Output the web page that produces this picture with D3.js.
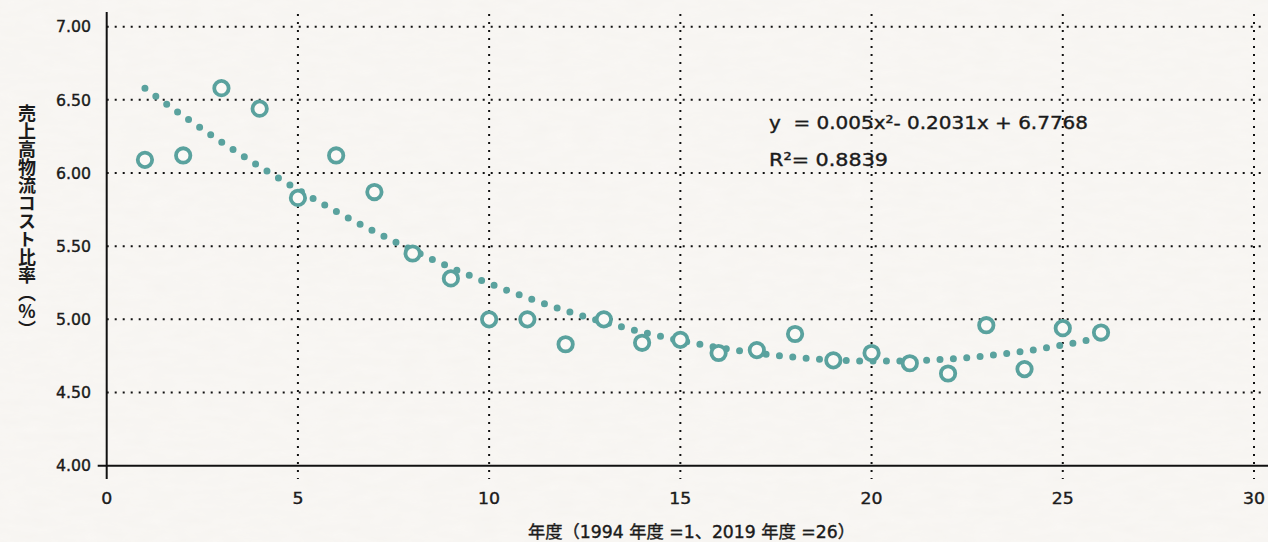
<!DOCTYPE html>
<html>
<head>
<meta charset="utf-8">
<script src="https://cdn.jsdelivr.net/npm/d3@7"></script>
<style>
  html, body { margin: 0; padding: 0; background: #f8f6f3; }
  svg text { font-family: "DejaVu Sans", "Noto Sans CJK JP", sans-serif; fill: #1b1b1b; }
</style>
</head>
<body>
<svg id="chart"></svg>
<script>
// data
var years = [1, 2, 3, 4, 5, 6, 7, 8, 9, 10, 11, 12, 13, 14, 15, 16, 17, 18, 19, 20, 21, 22, 23, 24, 25, 26];
var ratios = [6.09, 6.12, 6.58, 6.44, 5.83, 6.12, 5.87, 5.45, 5.28, 5.00, 5.00, 4.83, 5.00, 4.84, 4.86, 4.77, 4.79, 4.90, 4.72, 4.77, 4.70, 4.63, 4.96, 4.66, 4.94, 4.91];
// trendline coefficients printed on the chart (c0 + c1*x + c2*x^2)
var trendCoef = [6.7768, -0.2031, 0.005];
var xTicks = [0, 5, 10, 15, 20, 25, 30];
var yTicks = [4.0, 4.5, 5.0, 5.5, 6.0, 6.5, 7.0];
var eqLines = ["y \u00A0= 0.005x\u00B2- 0.2031x + 6.7768", "R\u00B2= 0.8839"];
var yTitle = "売上高物流コスト比率︵%︶";
var xTitle = "年度（1994 年度 =1、2019 年度 =26）";

function render_chart(w, h) {
    var teal = "#5aa29e";
    var ink = "#1b1b1b";

    var x = d3.scaleLinear().domain([0, 30]).range([106.7, 1254]);
    var y = d3.scaleLinear().domain([4, 7]).range([465.7, 26.7]);

    var svg = d3.select("#chart")
        .attr("width", w)
        .attr("height", h);

    // paper-ish background
    var defs = svg.append("defs");
    var f = defs.append("filter").attr("id", "paper")
        .attr("x", 0).attr("y", 0).attr("width", "100%").attr("height", "100%");
    f.append("feTurbulence").attr("type", "fractalNoise")
        .attr("baseFrequency", "0.04 0.12").attr("numOctaves", 3).attr("seed", 4);
    f.append("feColorMatrix").attr("type", "matrix")
        .attr("values", "0 0 0 0 0.55  0 0 0 0 0.52  0 0 0 0 0.48  0 0 0 0.06 0");
    f.append("feComposite").attr("in2", "SourceGraphic").attr("operator", "in");

    svg.append("rect").attr("width", w).attr("height", h).attr("fill", "#f9f7f4");
    svg.append("rect").attr("width", w).attr("height", h).attr("fill", "#fff").attr("filter", "url(#paper)");

    // horizontal grid (dotted)
    svg.append("g")
        .selectAll("line")
        .data(yTicks.filter(function (d) { return d > 4; }))
        .enter().append("line")
        .attr("x1", x(0)).attr("x2", 1266)
        .attr("y1", function (d) { return y(d); })
        .attr("y2", function (d) { return y(d); })
        .attr("stroke", "#111")
        .attr("stroke-width", 2)
        .attr("stroke-dasharray", "2 6");

    // vertical grid (dotted), running a little past the axis like tick marks
    svg.append("g")
        .selectAll("line")
        .data(xTicks.filter(function (d) { return d > 0; }))
        .enter().append("line")
        .attr("x1", function (d) { return x(d); })
        .attr("x2", function (d) { return x(d); })
        .attr("y1", 14).attr("y2", 479)
        .attr("stroke", "#111")
        .attr("stroke-width", 2)
        .attr("stroke-dasharray", "2 6");

    // axes
    svg.append("line")
        .attr("x1", x(0)).attr("x2", x(0))
        .attr("y1", 12).attr("y2", 479)
        .attr("stroke", "#111").attr("stroke-width", 2);
    svg.append("line")
        .attr("x1", x(0) - 9).attr("x2", 1268)
        .attr("y1", y(4)).attr("y2", y(4))
        .attr("stroke", "#111").attr("stroke-width", 2);

    // tick labels (glyphs stretched a little, the original face is wide)
    svg.append("g")
        .selectAll("text")
        .data(yTicks)
        .enter().append("text")
        .attr("x", 91)
        .attr("y", function (d) { return y(d); })
        .attr("dy", "0.36em")
        .attr("text-anchor", "end")
        .attr("font-size", 16)
        .attr("stroke", ink)
        .attr("stroke-width", 0.4)
        .attr("textLength", 35)
        .attr("lengthAdjust", "spacingAndGlyphs")
        .text(function (d) { return d3.format(".2f")(d); });

    svg.append("g")
        .selectAll("text")
        .data(xTicks)
        .enter().append("text")
        .attr("x", function (d) { return x(d); })
        .attr("y", 504)
        .attr("text-anchor", "middle")
        .attr("font-size", 16.5)
        .attr("stroke", ink)
        .attr("stroke-width", 0.4)
        .attr("textLength", function (d) { return String(d).length * 11; })
        .attr("lengthAdjust", "spacingAndGlyphs")
        .text(function (d) { return d; });

    // axis titles
    svg.append("text")
        .attr("x", 27)
        .attr("y", 221)
        .attr("text-anchor", "middle")
        .attr("font-size", 18)
        .attr("font-weight", 700)
        .style("writing-mode", "vertical-rl")
        .style("text-orientation", "upright")
        .style("font-family", "'Noto Sans CJK JP', sans-serif")
        .text(yTitle);

    svg.append("text")
        .attr("x", 528)
        .attr("y", 538)
        .attr("font-size", 17)
        .attr("stroke", ink)
        .attr("stroke-width", 0.4)
        .attr("textLength", 327)
        .attr("lengthAdjust", "spacingAndGlyphs")
        .style("font-family", "'DejaVu Sans', 'Noto Sans CJK JP', sans-serif")
        .text(xTitle);

    // polynomial trendline, dotted
    var trend_line = d3.line()
        .x(function (d) { return x(d); })
        .y(function (d) {
            return y(trendCoef[0] + trendCoef[1] * d + trendCoef[2] * d * d);
        })
        .curve(d3.curveMonotoneX);

    svg.append("path")
        .datum(years)
        .attr("d", trend_line)
        .attr("fill", "none")
        .attr("stroke", teal)
        .attr("stroke-width", 7)
        .attr("stroke-linecap", "round")
        .attr("stroke-dasharray", "0 13.4");

    // hollow markers
    svg.append("g")
        .selectAll("circle")
        .data(years)
        .enter().append("circle")
        .attr("cx", function (d) { return x(d); })
        .attr("cy", function (d, i) { return y(ratios[i]); })
        .attr("r", 7.2)
        .attr("fill", "#fbf9f6")
        .attr("stroke", teal)
        .attr("stroke-width", 3.8);

    // equation
    var eqWidths = [319, 119];
    svg.append("g")
        .selectAll("text")
        .data(eqLines)
        .enter().append("text")
        .attr("x", 769)
        .attr("y", function (d, i) { return 129 + i * 37; })
        .attr("font-size", 18)
        .attr("stroke", ink)
        .attr("stroke-width", 0.4)
        .attr("textLength", function (d, i) { return eqWidths[i]; })
        .attr("lengthAdjust", "spacingAndGlyphs")
        .text(function (d) { return d; });
}

render_chart(1268, 542);
</script>
</body>
</html>
